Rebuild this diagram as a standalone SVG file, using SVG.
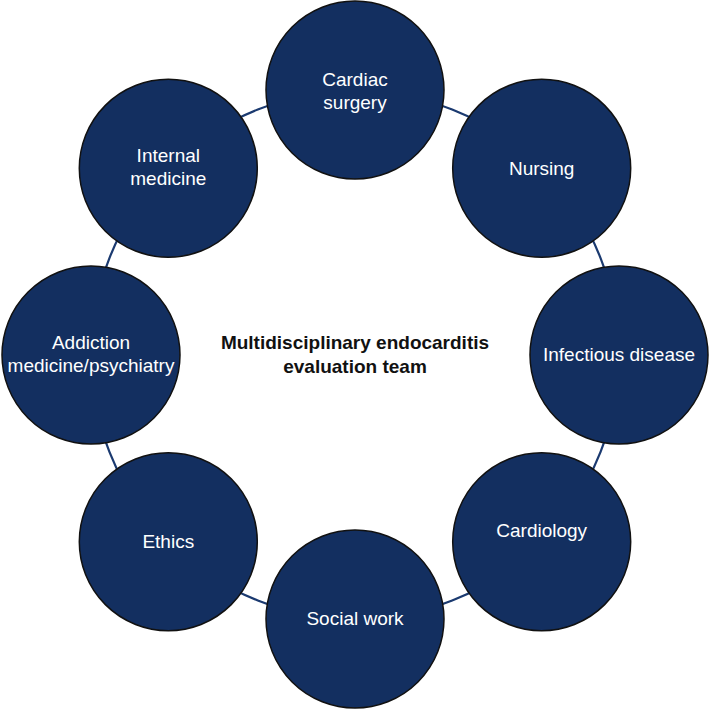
<svg xmlns="http://www.w3.org/2000/svg" width="710" height="710" viewBox="0 0 710 710">
<style>
.node circle{fill:#132f60;stroke:#111;stroke-width:1.5}
.node text{fill:#fff;font-family:"Liberation Sans",Arial,sans-serif;font-size:19px;text-anchor:middle}
.title{fill:#111;font-family:"Liberation Sans",Arial,sans-serif;font-size:19px;font-weight:bold;text-anchor:middle}
</style>
<rect width="710" height="710" fill="#fff"/>
<g id="connectors">
<circle cx="355" cy="355" r="264" fill="none" stroke="#1b3a70" stroke-width="2.2"/>
</g>
<g id="center">
<text class="title" x="355" y="349">Multidisciplinary endocarditis</text>
<text class="title" x="355" y="373">evaluation team</text>
</g>
<g id="cardiac-surgery" class="node"><circle cx="355" cy="90" r="89"/><text x="355" y="86">Cardiac</text><text x="355" y="109">surgery</text></g>
<g id="nursing" class="node"><circle cx="541.7" cy="168.3" r="89"/><text x="541.7" y="174.5">Nursing</text></g>
<g id="infectious-disease" class="node"><circle cx="619" cy="355" r="89"/><text x="619" y="361">Infectious disease</text></g>
<g id="cardiology" class="node"><circle cx="541.7" cy="541.7" r="89"/><text x="541.7" y="537">Cardiology</text></g>
<g id="social-work" class="node"><circle cx="355" cy="619" r="89"/><text x="355" y="625">Social work</text></g>
<g id="ethics" class="node"><circle cx="168.3" cy="541.7" r="89"/><text x="168.3" y="548">Ethics</text></g>
<g id="addiction" class="node"><circle cx="91" cy="355" r="89"/><text x="91" y="349">Addiction</text><text x="91" y="372">medicine/psychiatry</text></g>
<g id="internal-medicine" class="node"><circle cx="168.3" cy="168.3" r="89"/><text x="168.3" y="162">Internal</text><text x="168.3" y="185">medicine</text></g>
</svg>
